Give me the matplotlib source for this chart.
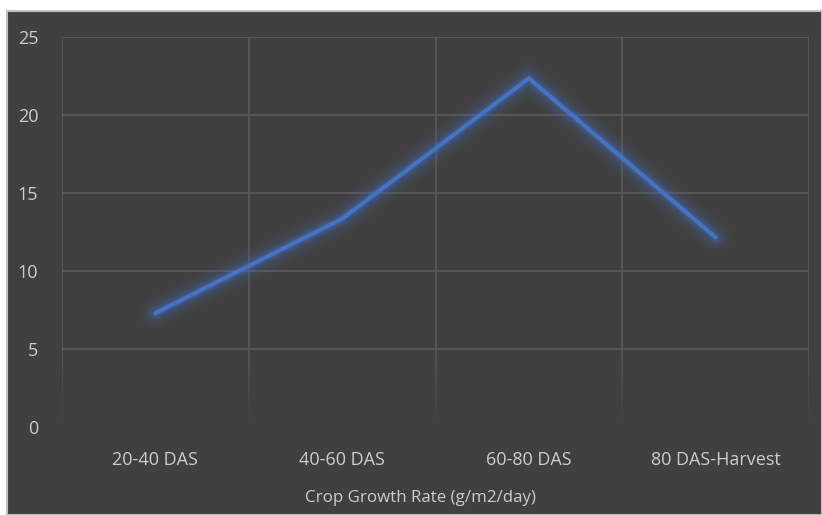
import numpy as np
import matplotlib.pyplot as plt
from matplotlib.patches import Rectangle

plt.rcParams['font.family'] = ['Open Sans', 'DejaVu Sans']

stages = ['20-40 DAS', '40-60 DAS', '60-80 DAS', '80 DAS-Harvest']
cgr = [7.3, 13.35, 22.35, 12.15]
yticks = [0, 5, 10, 15, 20, 25]

bg = '#404040'
grid_col = '#5a5a5a'
txt_col = '#cccccc'
blue = '#4472c4'

W, H = 822, 515
fig = plt.figure(figsize=(W / 100, H / 100), dpi=100, facecolor='white')

# dark chart frame
fig.patches.append(Rectangle((7 / W, 0), 1 - 7 / W, 1 - 11 / H,
                             transform=fig.transFigure, facecolor=bg,
                             edgecolor='#c0c0c0', linewidth=1.5, zorder=-5))

ax = fig.add_axes([62 / W, 1 - 427 / H, (809 - 62) / W, (427 - 37) / H])
ax.set_facecolor(bg)
ax.patch.set_alpha(0)

x = np.arange(len(stages))
ax.set_xlim(-0.5, len(stages) - 0.5)
ax.set_ylim(0, 25)

# grid: vertical lines at category boundaries, horizontal at ticks
for b in np.arange(-0.5, len(stages), 1.0):
    ax.axvline(b, color=grid_col, lw=1.2, zorder=0.5)
for t in yticks[1:]:
    ax.axhline(t, color=grid_col, lw=1.2, zorder=0.5)

# fade the lower part of the grid into the background
fade = np.zeros((100, 1, 4))
rgb = np.array([0x40, 0x40, 0x40]) / 255
fade[:, 0, :3] = rgb
fade[:, 0, 3] = np.clip(np.linspace(1, -0.15, 100), 0, 1) ** 0.8
ax.imshow(fade, extent=(-0.5, len(stages) - 0.5, 0, 5.6), aspect='auto',
          origin='lower', zorder=0.8, interpolation='bilinear')

# soft glow under the line
for lw, a in [(22, 0.05), (17, 0.07), (13, 0.10), (9, 0.14), (6, 0.2)]:
    ax.plot(x, cgr, color=blue, lw=lw, alpha=a, solid_capstyle='round',
            solid_joinstyle='round', zorder=1.5)
ax.plot(x, cgr, color=blue, lw=3, solid_capstyle='round',
        solid_joinstyle='miter', zorder=2)

ax.set_xticks(x)
ax.set_xticklabels(stages)
ax.set_yticks(yticks)
ax.tick_params(axis='both', length=0, colors=txt_col, labelsize=13)
ax.tick_params(axis='x', pad=17)
ax.tick_params(axis='y', pad=17)
for s in ax.spines.values():
    s.set_visible(False)

fig.text(420 / W, 1 - 498 / H, 'Crop Growth Rate (g/m2/day)', color=txt_col,
         fontsize=12.2, ha='center', va='center')

fig.savefig('out.png', dpi=100, facecolor=fig.get_facecolor())
